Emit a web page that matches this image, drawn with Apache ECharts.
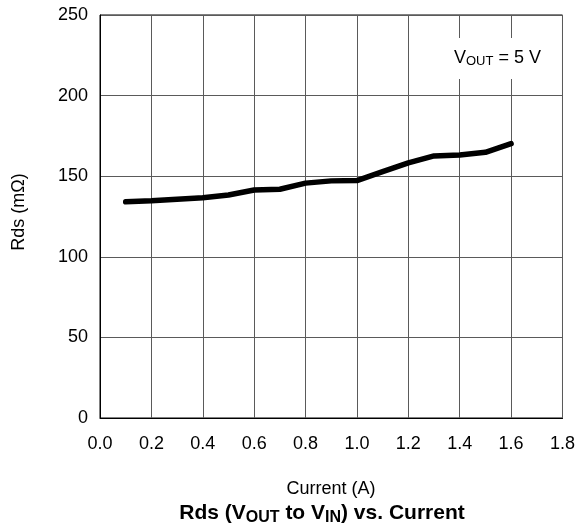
<!DOCTYPE html>
<html>
<head>
<meta charset="utf-8">
<script src="https://cdn.jsdelivr.net/npm/echarts@6/dist/echarts.min.js"></script>
<style>html,body{margin:0;padding:0;background:#fff}#c{width:578px;height:531px}</style>
</head>
<body>
<div id="c"></div>
<script>
var currents = [0.1, 0.2, 0.3, 0.4, 0.5, 0.6, 0.7, 0.8, 0.9, 1.0, 1.1, 1.2, 1.3, 1.4, 1.5, 1.6];
var rds = [134.1, 134.7, 135.7, 136.6, 138.3, 141.4, 141.9, 145.7, 147.1, 147.3, 152.8, 158.3, 162.6, 163.1, 164.8, 170.2];
var xTicks = [0.0, 0.2, 0.4, 0.6, 0.8, 1.0, 1.2, 1.4, 1.6, 1.8];
var yTicks = [0, 50, 100, 150, 200, 250];

var FONT = "'Liberation Sans', Arial, Helvetica, sans-serif";
var chart = echarts.init(document.getElementById('c'), null, {renderer: 'canvas'});
var data = currents.map(function (c, i) { return [c, rds[i]]; });

chart.setOption({
  animation: false,
  backgroundColor: '#fff',
  grid: {left: 100, right: 14, top: 15, bottom: 113, show: true, borderColor: '#000', borderWidth: 1},
  xAxis: {
    type: 'value', min: xTicks[0], max: xTicks[xTicks.length - 1], interval: 0.2,
    axisLine: {show: true, lineStyle: {color: '#000', width: 1}},
    axisTick: {show: false},
    axisLabel: {color: '#000', fontSize: 18, fontFamily: FONT, margin: 17,
      formatter: function (v) { return v.toFixed(1); }},
    splitLine: {show: true, lineStyle: {color: '#5a5a5a', width: 1}}
  },
  yAxis: {
    type: 'value', min: yTicks[0], max: yTicks[yTicks.length - 1], interval: 50,
    axisLine: {show: true, lineStyle: {color: '#000', width: 1}},
    axisTick: {show: false},
    axisLabel: {color: '#000', fontSize: 18, fontFamily: FONT, margin: 12},
    splitLine: {show: true, lineStyle: {color: '#5a5a5a', width: 1}}
  },
  series: [{
    type: 'line', data: data, symbol: 'none',
    lineStyle: {color: '#000', width: 5.5, cap: 'round', join: 'round'}
  }],
  graphic: [
    {type: 'rect', shape: {x: 446, y: 38, width: 108, height: 41}, z: 90,
      style: {fill: '#fff'}},
    {type: 'text', x: 454, y: 58, z: 100,
      style: {text: '{n|V}{s|OUT}{n| = 5 V}', verticalAlign: 'middle',
        rich: {n: {fontSize: 18, fontFamily: FONT, fill: '#000'},
               s: {fontSize: 13, fontFamily: FONT, fill: '#000', padding: [7, 0, 0, 0]}}}},
    {type: 'text', x: 19, y: 212, rotation: Math.PI / 2, z: 100,
      style: {text: 'Rds (mΩ)', fontSize: 18, fontFamily: FONT, fill: '#000', align: 'center', verticalAlign: 'middle'}},
    {type: 'text', x: 331, y: 489, z: 100,
      style: {text: 'Current (A)', fontSize: 18, fontFamily: FONT, fill: '#000', align: 'center', verticalAlign: 'middle'}},
    {type: 'text', x: 322, y: 513, z: 100,
      style: {text: '{b|Rds (V}{s|OUT}{b| to V}{s|IN}{b|) vs. Current}', align: 'center', verticalAlign: 'middle',
        rich: {b: {fontSize: 21, fontWeight: 'bold', fontFamily: FONT, fill: '#000'},
               s: {fontSize: 16, fontWeight: 'bold', fontFamily: FONT, fill: '#000', padding: [9, 0, 0, 0]}}}}
  ]
});
</script>
</body>
</html>
